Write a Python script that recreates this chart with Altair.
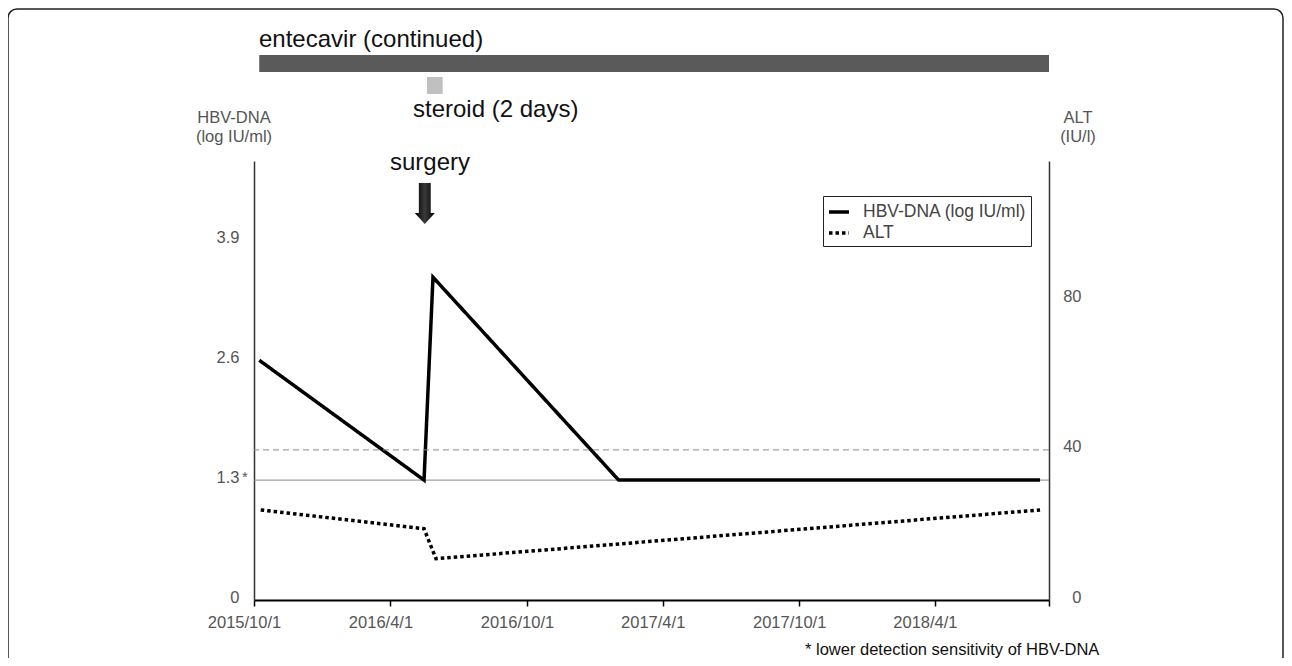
import altair as alt
import pandas as pd

FONT = "Liberation Sans"

# ---- data ----
hbv_label = "HBV-DNA (log IU/ml)"
alt_label = "ALT"

hbv_dates = ["2015-10-08T00:00", "2016-05-16T00:00", "2016-05-28T00:00", "2017-02-01T00:00", "2018-08-20T00:00"]
hbv_values = [2.6, 1.3, 3.5, 1.3, 1.3]

alt_dates = ["2015-10-10T00:00", "2016-05-16T00:00", "2016-06-01T00:00", "2018-08-20T00:00"]
alt_values = [24, 19, 11, 24]

x_tick_dates = [(2015, 10, 1), (2016, 4, 1), (2016, 10, 1), (2017, 4, 1), (2017, 10, 1), (2018, 4, 1), (2018, 9, 1)]
hbv_ticks = [0, 1.3, 2.6, 3.9]
alt_ticks = [0, 40, 80]

detection_limit = [1.3]
alt_upper_normal = [40]

treat_names = ["entecavir (continued)", "steroid (2 days)"]
treat_start = ["2015-10-08T00:00", "2016-05-20T00:00"]
treat_end = ["2018-09-01T00:00", "2016-06-10T00:00"]

surgery_date = ["2016-05-17T00:00"]

# ---- tables ----
hbv_df = pd.DataFrame({"date": hbv_dates, "value": hbv_values, "series": hbv_label})
alt_df = pd.DataFrame({"date": alt_dates, "value": alt_values, "series": alt_label})
ent_df = pd.DataFrame({"start": treat_start[:1], "end": treat_end[:1]})
ste_df = pd.DataFrame({"start": treat_start[1:], "end": treat_end[1:]})
surg_df = pd.DataFrame({"date": surgery_date})
one = pd.DataFrame({"a": [0]})

x_scale = alt.Scale(domain=[alt.DateTime(year=2015, month=10, date=1),
                            alt.DateTime(year=2018, month=9, date=1)])
x_axis = alt.Axis(
    values=[alt.DateTime(year=y, month=m, date=d) for (y, m, d) in x_tick_dates],
    format="%Y/%-m/%-d",
    labelExpr="year(datum.value) == 2018 && month(datum.value) == 8 ? '' : datum.label",
    title=None, grid=False, domainColor="#000", domainWidth=2,
    tickColor="#000", tickWidth=1.5, tickSize=6,
    labelFontSize=16.5, labelColor="#555", labelPadding=8, labelOffset=-10,
    labelFlush=False,
)

hbv_scale = alt.Scale(domain=[0, 4.76])
alt_scale = alt.Scale(domain=[0, 117])

left_axis = alt.Axis(
    values=hbv_ticks, orient="left", title=None, grid=False, ticks=False,
    labelExpr="datum.value == 0 ? '0' : format(datum.value, '.1f')",
    domainColor="#333", domainWidth=1.5, labelFontSize=16.5, labelColor="#555",
    labelPadding=15, labelOffset=-3, labelFlush=False,
)
right_axis = alt.Axis(
    values=alt_ticks, orient="right", title=None, grid=False, ticks=False,
    domainColor="#333", domainWidth=1.5, labelFontSize=16.5, labelColor="#555",
    labelPadding=32, labelAlign="right", labelOffset=-3, labelFlush=False,
)

dash_scale = alt.Scale(domain=[hbv_label, alt_label], range=[[1, 0], [3.5, 3]])
legend = alt.Legend(
    orient="none", legendX=569, legendY=35, title=None, symbolType="stroke",
    symbolStrokeWidth=3.5, symbolSize=400, symbolStrokeColor="black",
    labelFontSize=17.5, labelColor="#444", labelOffset=12, padding=4,
    strokeColor="#222", fillColor="white", rowPadding=0, labelLimit=300,
)

rule13 = alt.Chart(pd.DataFrame({"v": detection_limit})).mark_rule(
    color="#888", strokeWidth=1).encode(y=alt.Y("v:Q", scale=hbv_scale, axis=left_axis))
hbv_line = alt.Chart(hbv_df).mark_line(
    color="black", strokeWidth=3.5, strokeJoin="miter", strokeCap="butt").encode(
    x=alt.X("date:T", scale=x_scale, axis=x_axis),
    y=alt.Y("value:Q", scale=hbv_scale, axis=left_axis),
    strokeDash=alt.StrokeDash("series:N", scale=dash_scale, legend=legend),
)
left_layer = alt.layer(rule13, hbv_line)

rule40 = alt.Chart(pd.DataFrame({"v": alt_upper_normal})).mark_rule(
    color="#888", strokeWidth=1, strokeDash=[6, 4]).encode(
    y=alt.Y("v:Q", scale=alt_scale, axis=right_axis))
alt_line = alt.Chart(alt_df).mark_line(
    color="black", strokeWidth=3.5, strokeCap="butt").encode(
    x=alt.X("date:T", scale=x_scale, axis=x_axis),
    y=alt.Y("value:Q", scale=alt_scale, axis=right_axis),
    strokeDash=alt.StrokeDash("series:N", scale=dash_scale, legend=legend),
)
right_layer = alt.layer(rule40, alt_line)

ent_bar = alt.Chart(ent_df).mark_rect(color="#5a5a5a").encode(
    x=alt.X("start:T", scale=x_scale, axis=x_axis), x2="end:T",
    y=alt.value(-106), y2=alt.value(-89))
ste_bar = alt.Chart(ste_df).mark_rect(color="#c0c0c0").encode(
    x=alt.X("start:T", scale=x_scale, axis=x_axis), x2="end:T",
    y=alt.value(-84), y2=alt.value(-67))

arrow_path = "M-0.29,-1L0.29,-1L0.29,0.46L0.49,0.46L0,1L-0.49,0.46L-0.29,0.46Z"
arrow = alt.Chart(surg_df).mark_point(
    shape=arrow_path, size=1681, filled=True, opacity=1, strokeWidth=0,
    fill=alt.LinearGradient(gradient="linear", x1=0, x2=1, y1=0, y2=0,
                            stops=[alt.GradientStop(color="#000", offset=0),
                                   alt.GradientStop(color="#3a3a3a", offset=0.5),
                                   alt.GradientStop(color="#000", offset=1)]),
).encode(x=alt.X("date:T", scale=x_scale, axis=x_axis), y=alt.value(42.5))


def label(text, x, y, size=24, align="left", baseline="alphabetic", color="#111"):
    return alt.Chart(one).mark_text(
        text=text, fontSize=size, align=align, baseline=baseline, color=color, font=FONT
    ).encode(x=alt.value(x), y=alt.value(y))


texts = [
    label(treat_names[0], 5, -114),
    label(treat_names[1], 159, -44),
    label("surgery", 176, 9, align="center"),
    label("HBV-DNA", -20, -43.5, size=16.5, align="center", baseline="middle", color="#555"),
    label("(log IU/ml)", -20, -24, size=16.5, align="center", baseline="middle", color="#555"),
    label("ALT", 824, -43.5, size=16.5, align="center", baseline="middle", color="#555"),
    label("(IU/l)", 824, -24, size=16.5, align="center", baseline="middle", color="#555"),
    label("*", -9, 316, size=15, align="center", baseline="middle", color="#555"),
    label("* lower detection sensitivity of HBV-DNA", 551, 494, size=16.5),
]

border = alt.Chart(one).mark_rect(
    fillOpacity=0, stroke="#222", strokeWidth=1.5, cornerRadius=9).encode(
    x=alt.value(-246), x2=alt.value(1029), y=alt.value(-152), y2=alt.value(530))

chart = alt.layer(
    left_layer, right_layer, ent_bar, ste_bar, arrow, *texts, border
).resolve_scale(y="independent").properties(
    width=795, height=439,
    autosize=alt.AutoSizeParams(type="none"),
    padding={"left": 246, "top": 153, "right": 235, "bottom": 58},
    background="white",
).configure(font=FONT).configure_view(stroke=None)

chart.save("out.html", embed_options={"renderer": "svg", "actions": False})
